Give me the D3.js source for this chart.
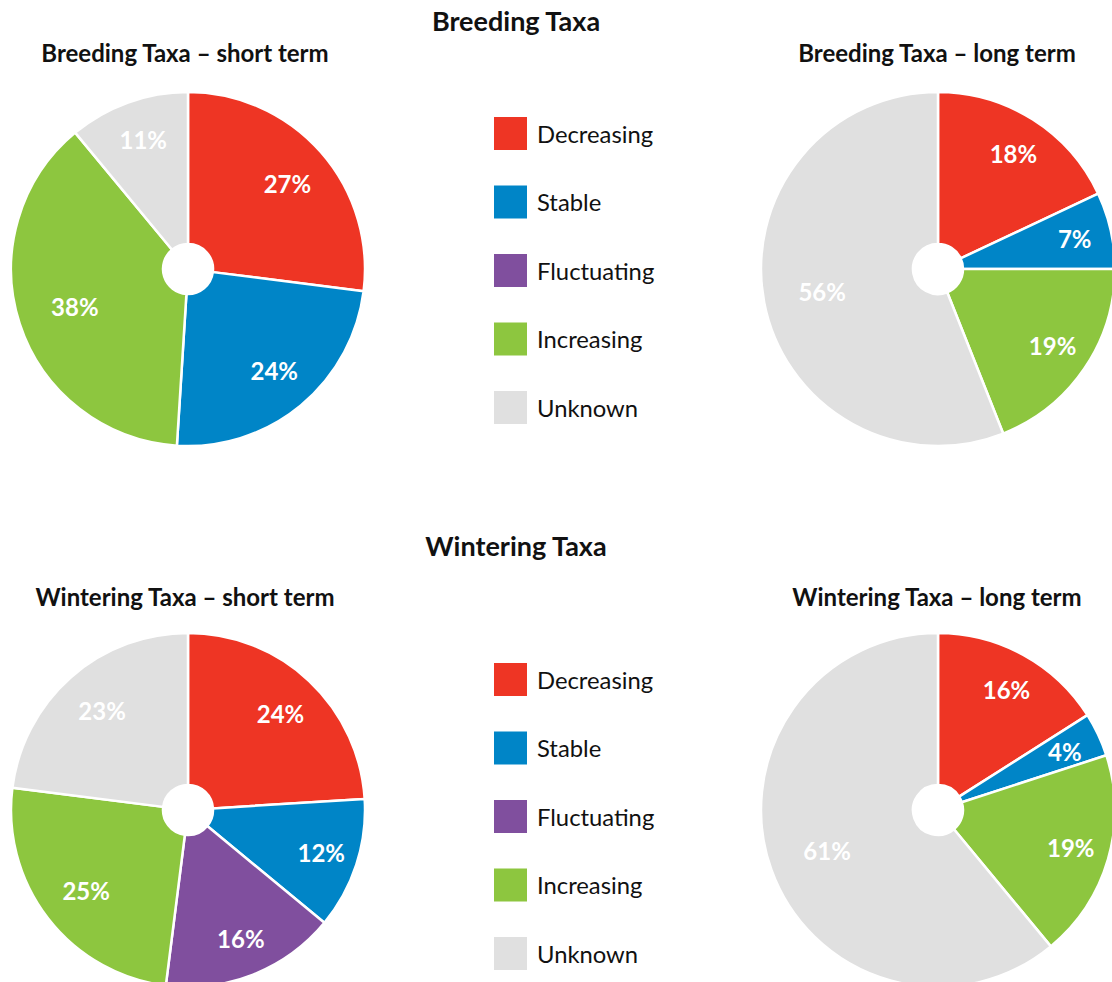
<!DOCTYPE html>
<html>
<head>
<meta charset="utf-8">
<script src="https://cdn.jsdelivr.net/npm/d3@7"></script>
<style>
  html, body { margin: 0; padding: 0; background: #fff; }
  svg { display: block; font-family: Lato, "Open Sans", sans-serif; }
</style>
</head>
<body>
<svg id="chart" width="1112" height="982"></svg>
<script>
const categories = ["Decreasing", "Stable", "Fluctuating", "Increasing", "Unknown"];
const colors = ["#EE3524", "#0085C7", "#804F9E", "#8DC63F", "#E0E0E0"];

const breedingShort = [27, 24, 0, 38, 11];
const breedingLong  = [18, 7, 0, 19, 56];
const winteringShort = [24, 12, 16, 25, 23];
const winteringLong  = [16, 4, 0, 19, 61];

const sectionTitles = ["Breeding Taxa", "Wintering Taxa"];
const panelTitles = [
  "Breeding Taxa – short term", "Breeding Taxa – long term",
  "Wintering Taxa – short term", "Wintering Taxa – long term"
];

const svg = d3.select("#chart");
const color = d3.scaleOrdinal().domain(categories).range(colors);

const R = 177, R0 = 25;
const pie = d3.pie().sort(null).value(d => d.value);
const arc = d3.arc().innerRadius(R0).outerRadius(R);

// label radius shrinks for wide slices
function labelPos(d) {
  const span = (d.endAngle - d.startAngle) * 180 / Math.PI;
  const r = Math.max(120, Math.min(138, 138 - (span - 60) * 0.22));
  const a = (d.startAngle + d.endAngle) / 2;
  return [Math.sin(a) * r + 2, -Math.cos(a) * r];
}

function drawPie(values, cx, cy, title, tx, ty) {
  svg.append("text")
    .attr("x", tx).attr("y", ty)
    .attr("text-anchor", "middle").attr("dominant-baseline", "central")
    .attr("font-size", 24).attr("font-weight", 700).attr("fill", "#111")
    .text(title);
  const data = categories.map((c, i) => ({ cat: c, value: values[i] }));
  const arcs = pie(data).filter(d => d.data.value > 0);
  const g = svg.append("g").attr("transform", `translate(${cx},${cy})`);
  g.selectAll("path").data(arcs).join("path")
    .attr("d", arc)
    .attr("fill", d => color(d.data.cat))
    .attr("stroke", "#fff").attr("stroke-width", 2.5)
    .attr("stroke-linejoin", "round");
  g.selectAll("text").data(arcs).join("text")
    .attr("transform", d => `translate(${labelPos(d)})`)
    .attr("text-anchor", "middle").attr("dominant-baseline", "central")
    .attr("font-size", 24).attr("font-weight", 700).attr("fill", "#fff")
    .text(d => d.data.value + "%");
}

function drawLegend(x, y0, step) {
  const g = svg.append("g");
  const items = g.selectAll("g").data(categories).join("g")
    .attr("transform", (d, i) => `translate(${x},${y0 + i * step})`);
  items.append("rect").attr("width", 33).attr("height", 33).attr("fill", d => color(d));
  items.append("text").attr("x", 43).attr("y", 16.5)
    .attr("dominant-baseline", "central")
    .attr("font-size", 23.8).attr("fill", "#111")
    .text(d => d);
}

// Section titles
svg.append("text").attr("x", 516).attr("y", 20)
  .attr("text-anchor", "middle").attr("dominant-baseline", "central")
  .attr("font-size", 27).attr("font-weight", 700).attr("fill", "#111")
  .text(sectionTitles[0]);
svg.append("text").attr("x", 516).attr("y", 545)
  .attr("text-anchor", "middle").attr("dominant-baseline", "central")
  .attr("font-size", 27).attr("font-weight", 700).attr("fill", "#111")
  .text(sectionTitles[1]);

drawPie(breedingShort, 188, 269, panelTitles[0], 185, 52);
drawPie(breedingLong, 938, 269, panelTitles[1], 937, 52);
drawPie(winteringShort, 188, 810, panelTitles[2], 185, 596);
drawPie(winteringLong, 938, 810, panelTitles[3], 937, 596);

drawLegend(494, 117, 68.5);
drawLegend(494, 663, 68.5);
</script>
</body>
</html>
